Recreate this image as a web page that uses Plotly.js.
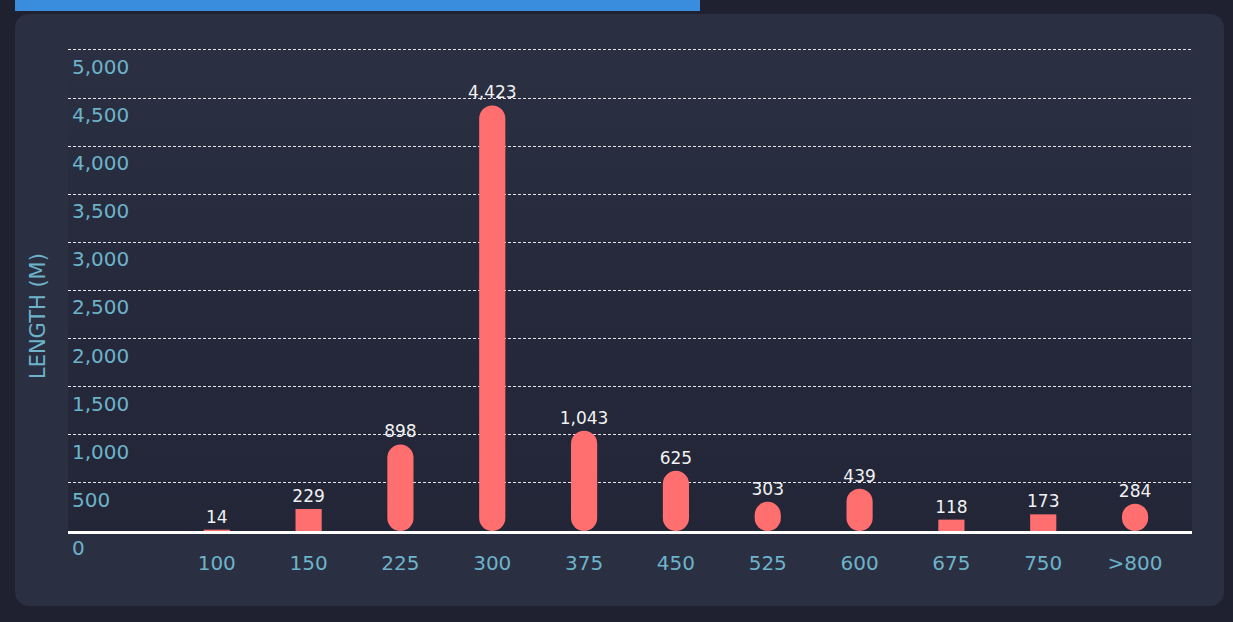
<!DOCTYPE html>
<html>
<head>
<meta charset="utf-8">
<script src="https://cdn.plot.ly/plotly-3.0.1.min.js"></script>
<style>
  html, body { margin: 0; padding: 0; background: #1f2130; width: 1233px; height: 622px; overflow: hidden; }
  #topbar { position: absolute; left: 15px; top: 0; width: 685px; height: 11px; background: #3a8ddd; }
  #card { position: absolute; left: 15px; top: 14px; width: 1209px; height: 592px; background: #2a2f42; border-radius: 14px; }
  #plotbg { position: absolute; left: 68px; top: 48px; width: 1124px; height: 483px;
            background: linear-gradient(to bottom, #2a2f42 0%, #25293b 55%, #222637 100%); }
  #chart { position: absolute; left: 0; top: 0; width: 1233px; height: 622px; }
</style>
</head>
<body>
<div id="topbar"></div>
<div id="card"></div>
<div id="plotbg"></div>
<div id="chart"></div>
<script>
// ---- data ----
const categories = ['100', '150', '225', '300', '375', '450', '525', '600', '675', '750', '>800'];
const lengths = [14, 229, 898, 4423, 1043, 625, 303, 439, 118, 173, 284];
const yTickValues = [0, 500, 1000, 1500, 2000, 2500, 3000, 3500, 4000, 4500, 5000];
const yTitle = 'LENGTH (M)';

// ---- styling ----
const barColor = '#ff6f6f';
const tickColor = '#6db3ca';
const fontFamily = '"DejaVu Sans", sans-serif';
const barWidth = 0.285;
const yMax = 5020;
const roundThreshold = 250; // bars shorter than this are drawn square

const xs = categories.map((c, i) => i);
const pillIdx = lengths.map((v, i) => i).filter(i => lengths[i] >= roundThreshold);
const flatIdx = lengths.map((v, i) => i).filter(i => lengths[i] < roundThreshold);

const traces = [
  // pill bars (explicit base -> rounded at both ends)
  {
    type: 'bar', x: pillIdx.map(i => xs[i]), y: pillIdx.map(i => lengths[i]),
    base: pillIdx.map(() => 0), width: barWidth,
    marker: { color: barColor, cornerradius: '50%', line: { width: 0 } },
    hoverinfo: 'skip', showlegend: false, yaxis: 'y'
  },
  // short square bars
  {
    type: 'bar', x: flatIdx.map(i => xs[i]), y: flatIdx.map(i => lengths[i]),
    width: barWidth,
    marker: { color: barColor, line: { width: 0 } },
    hoverinfo: 'skip', showlegend: false, yaxis: 'y'
  },
  // value labels
  {
    type: 'scatter', mode: 'markers+text', x: xs, y: lengths,
    text: lengths.map(v => v.toLocaleString('en-US')),
    textposition: 'top center',
    marker: { size: 3, opacity: 0 },
    textfont: { family: fontFamily, size: 17, color: '#f2f2f2' },
    hoverinfo: 'skip', showlegend: false, cliponaxis: false, yaxis: 'y2'
  }
];

const layout = {
  width: 1233, height: 622,
  margin: { l: 68, r: 41, t: 48, b: 91 },
  paper_bgcolor: 'rgba(0,0,0,0)',
  plot_bgcolor: 'rgba(0,0,0,0)',
  barmode: 'overlay',
  showlegend: false,
  font: { family: fontFamily, color: tickColor },
  xaxis: {
    type: 'linear',
    range: [-1.62, 10.62],
    tickvals: xs, ticktext: categories,
    showgrid: false, zeroline: false,
    showline: true, linecolor: '#ffffff', linewidth: 3,
    ticks: '',
    ticklabelstandoff: 12,
    tickfont: { family: fontFamily, size: 20, color: tickColor },
    fixedrange: true
  },
  yaxis: {
    range: [0, yMax],
    tickvals: yTickValues,
    showgrid: true, gridcolor: 'rgba(255,255,255,0.88)', gridwidth: 1, griddash: '3px,2px',
    zeroline: false, showline: false, ticks: '', showticklabels: false,
    fixedrange: true
  },
  yaxis2: {
    overlaying: 'y', range: [0, yMax],
    tickvals: yTickValues, tickformat: ',d',
    side: 'right', anchor: 'free', position: 0,
    showgrid: false, zeroline: false, showline: false, ticks: '',
    ticklabelstandoff: 3,
    ticklabelshift: 17,
    tickfont: { family: fontFamily, size: 20, color: tickColor },
    fixedrange: true
  },
  annotations: [{
    text: yTitle, textangle: -90,
    xref: 'paper', yref: 'paper', x: 0, y: 0.445,
    xanchor: 'center', yanchor: 'middle', xshift: -30,
    showarrow: false,
    font: { family: fontFamily, size: 21, color: tickColor }
  }]
};

Plotly.newPlot('chart', traces, layout, { displayModeBar: false, staticPlot: true });
</script>
</body>
</html>
